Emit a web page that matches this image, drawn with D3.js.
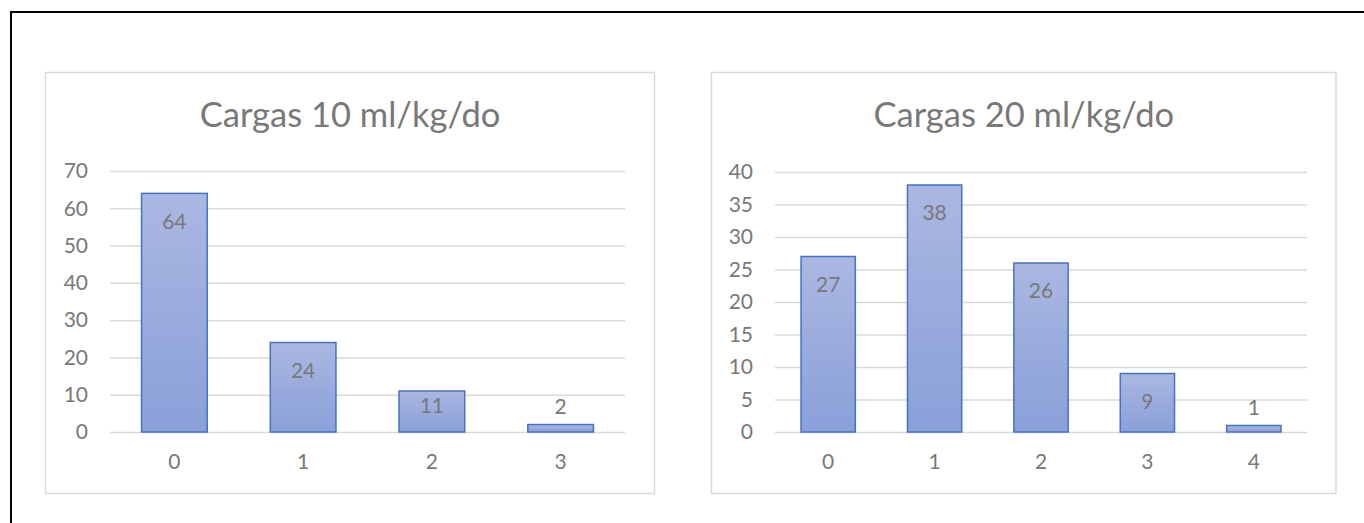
<!DOCTYPE html>
<html><head><meta charset="utf-8">
<script src="https://cdn.jsdelivr.net/npm/d3@7"></script>
<style>body{margin:0;background:#fff;overflow:hidden} svg{display:block}</style>
</head><body><svg id="c" width="1364" height="523"></svg>
<script>
const titles = ["Cargas 10 ml/kg/do", "Cargas 20 ml/kg/do"];
const categories10 = ["0", "1", "2", "3"];
const values10 = [64, 24, 11, 2];
const yTicks10 = [0, 10, 20, 30, 40, 50, 60, 70];
const categories20 = ["0", "1", "2", "3", "4"];
const values20 = [27, 38, 26, 9, 1];
const yTicks20 = [0, 5, 10, 15, 20, 25, 30, 35, 40];

const FONT = "Lato, 'Open Sans', sans-serif";
const TEXT = "#787878";
const GRID = "#d9d9d9";
const svg = d3.select("#c");

// gradient for bars
const defs = svg.append("defs");
const grad = defs.append("linearGradient").attr("id", "barGrad")
  .attr("x1", 0).attr("y1", 0).attr("x2", 0).attr("y2", 1);
grad.append("stop").attr("offset", "0%").attr("stop-color", "#aab7e1");
grad.append("stop").attr("offset", "100%").attr("stop-color", "#8aa0d9");

// outer black frame (extends past the viewport right/bottom)
svg.append("rect").attr("x", 11).attr("y", 12).attr("width", 1400).attr("height", 600)
  .attr("fill", "none").attr("stroke", "#000").attr("stroke-width", 2);

const panels = [
  {title: titles[0], cats: categories10, vals: values10, ticks: yTicks10,
   box: [45.5, 72.5, 654.5, 493.5], px: [110, 625], py: [432, 171]},
  {title: titles[1], cats: categories20, vals: values20, ticks: yTicks20,
   box: [711.5, 72.5, 1336, 493.5], px: [775, 1307], py: [432, 172]}
];

panels.forEach(p => {
  const g = svg.append("g");
  g.append("rect").attr("x", p.box[0]).attr("y", p.box[1])
    .attr("width", p.box[2] - p.box[0]).attr("height", p.box[3] - p.box[1])
    .attr("fill", "#fff").attr("stroke", GRID).attr("stroke-width", 1.5);

  g.append("text").attr("x", (p.box[0] + p.box[2]) / 2).attr("y", 127)
    .attr("text-anchor", "middle").attr("font-family", FONT).attr("font-size", 34.5)
    .attr("fill", TEXT).text(p.title);

  const x = d3.scaleBand().domain(p.cats).range(p.px).paddingInner(0.49).paddingOuter(0.245);
  const y = d3.scaleLinear().domain([0, d3.max(p.ticks)]).range(p.py);

  // gridlines
  const yAxis = d3.axisLeft(y).tickValues(p.ticks).tickSize(-(p.px[1] - p.px[0])).tickPadding(22);
  const ya = g.append("g").attr("transform", `translate(${p.px[0]},0)`).call(yAxis);
  ya.select(".domain").remove();
  ya.selectAll(".tick line").attr("stroke", GRID).attr("stroke-width", 1.5);
  ya.selectAll(".tick text").attr("font-family", FONT).attr("font-size", 21).attr("fill", TEXT);

  // bars
  g.selectAll("rect.bar").data(p.vals).join("rect").attr("class", "bar")
    .attr("x", (d, i) => x(p.cats[i])).attr("width", x.bandwidth())
    .attr("y", d => y(d)).attr("height", d => y(0) - y(d))
    .attr("fill", "url(#barGrad)").attr("stroke", "#4472c4").attr("stroke-width", 1.5);

  // x axis labels
  const xAxis = d3.axisBottom(x).tickSize(0).tickPadding(22);
  const xa = g.append("g").attr("transform", `translate(0,${p.py[0]})`).call(xAxis);
  xa.select(".domain").remove();
  xa.selectAll(".tick text").attr("font-family", FONT).attr("font-size", 21).attr("fill", TEXT);

  // data labels
  g.selectAll("text.lbl").data(p.vals).join("text").attr("class", "lbl")
    .attr("x", (d, i) => x(p.cats[i]) + x.bandwidth() / 2)
    .attr("y", d => {
      const h = y(0) - y(d);
      const off = h >= 35 ? Math.min(28, h - 26) : -18;
      return y(d) + off;
    })
    .attr("dy", "0.35em").attr("text-anchor", "middle")
    .attr("font-family", FONT).attr("font-size", 21).attr("fill", TEXT)
    .text(d => d);
});
</script>
</body></html>
